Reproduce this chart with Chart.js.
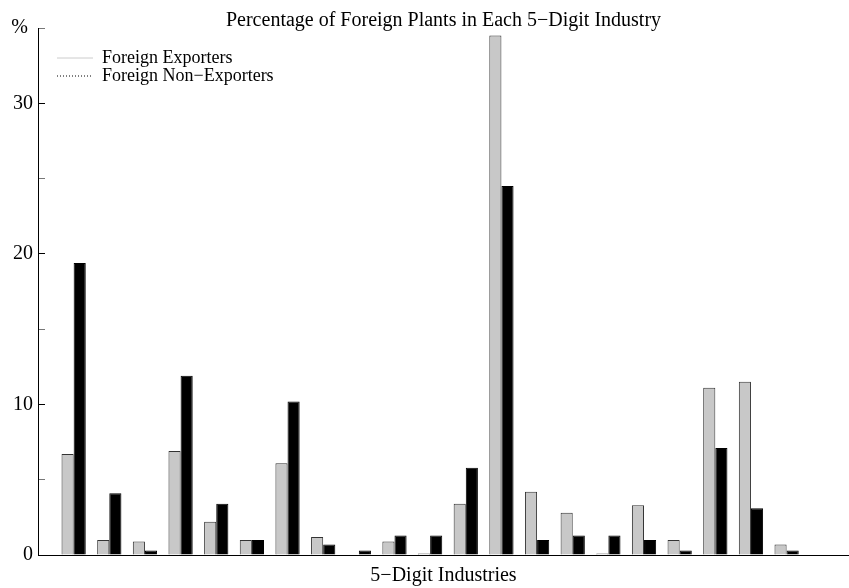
<!DOCTYPE html>
<html>
<head>
<meta charset="utf-8">
<script src="https://cdn.jsdelivr.net/npm/chart.js@4.4.1/dist/chart.umd.min.js"></script>
<style>
  body { margin: 0; background: #fff; }
  #contenedor { width: 849px; height: 588px; }
</style>
</head>
<body>
<div id="contenedor"><canvas id="graficoPlantas"></canvas></div>
<script>
// ===================================== Datos ==================
const industrias = [1, 2, 3, 4, 5, 6, 7, 8, 9, 10, 11, 12, 13, 14, 15, 16, 17, 18, 19, 20, 21];
const exportadores = [6.7, 1.0, 0.9, 6.9, 2.2, 1.0, 6.1, 1.2, 0, 0.9, 0.1, 3.4, 34.5, 4.2, 2.8, 0.1, 3.3, 1.0, 11.1, 11.5, 0.7];
const noExportadores = [19.4, 4.1, 0.3, 11.9, 3.4, 1.0, 10.2, 0.7, 0.3, 1.3, 1.3, 5.8, 24.5, 1.0, 1.3, 1.3, 1.0, 0.3, 7.1, 3.1, 0.3];
const ticksY = [0, 5, 10, 15, 20, 25, 30, 35];
const etiquetasY = ['0', '', '10', '', '20', '', '30', '% '];

const fuente = "'Liberation Serif', 'Times New Roman', serif";

// ===================================== Ubica la leyenda dentro del grafico ==================
const moverLeyenda = {
    id: 'moverLeyenda',
    afterLayout(chart) {
        chart.legend.left = chart.chartArea.left + 19;
        chart.legend.top = chart.chartArea.top + 21;
    }
};

new Chart(document.getElementById('graficoPlantas'), {
    type: 'bar',
    data: {
        datasets: [
            {
                label: 'Foreign Exporters',
                data: industrias.map((x, i) => ({ x: x, y: exportadores[i] })),
                backgroundColor: '#c8c8c8',
                borderColor: '#333',
                borderWidth: 1
            },
            {
                label: 'Foreign Non−Exporters',
                data: industrias.map((x, i) => ({ x: x, y: noExportadores[i] })),
                backgroundColor: '#000',
                borderColor: '#000',
                borderWidth: 1
            }
        ]
    },
    plugins: [moverLeyenda],
    options: {
        responsive: true,
        maintainAspectRatio: false,
        animation: false,
        categoryPercentage: 0.68,
        barPercentage: 1.0,
        layout: { padding: 0 },
        plugins: {
            title: {
                display: true,
                text: 'Percentage of Foreign Plants in Each 5−Digit Industry',
                color: '#000',
                fullSize: false,
                font: { family: fuente, size: 20, weight: 'normal', lineHeight: 0.75 },
                padding: { top: 13, bottom: 0 }
            },
            legend: {
                position: 'chartArea',
                align: 'start',
                labels: {
                    color: '#000',
                    font: { family: fuente, size: 18 },
                    padding: 0,
                    usePointStyle: true,
                    pointStyleWidth: 36,
                    generateLabels: () => [
                        { text: 'Foreign Exporters', pointStyle: 'line', strokeStyle: '#cccccc', fillStyle: '#cccccc', lineWidth: 1, lineDash: [], datasetIndex: 0 },
                        { text: 'Foreign Non−Exporters', pointStyle: 'line', strokeStyle: '#000', fillStyle: '#000', lineWidth: 1, lineDash: [1, 2], datasetIndex: 1 }
                    ]
                }
            },
            tooltip: { enabled: false }
        },
        scales: {
            x: {
                type: 'linear',
                offset: false,
                min: 0,
                max: 22.75,
                grid: { display: false },
                border: { display: true, color: '#000', width: 1 },
                ticks: { display: false },
                title: {
                    display: true,
                    text: '5−Digit Industries',
                    color: '#000',
                    font: { family: fuente, size: 20 },
                    padding: { top: 0, bottom: 0 }
                },
                afterFit: (s) => { s.height = 33; }
            },
            y: {
                min: 0,
                max: 35,
                afterBuildTicks: (s) => { s.ticks = ticksY.map(v => ({ value: v })); },
                grid: {
                    drawOnChartArea: false,
                    tickLength: -7,
                    color: (ctx) => (ctx.tick && ctx.tick.value % 10 === 5 ? '#777' : '#000')
                },
                border: { display: true, color: '#000', width: 1 },
                ticks: {
                    padding: 12,
                    color: '#000',
                    font: { family: fuente, size: 20 },
                    callback: (v) => etiquetasY[ticksY.indexOf(v)]
                },
                afterFit: (s) => { s.width = 38; }
            }
        }
    }
});
</script>
</body>
</html>
